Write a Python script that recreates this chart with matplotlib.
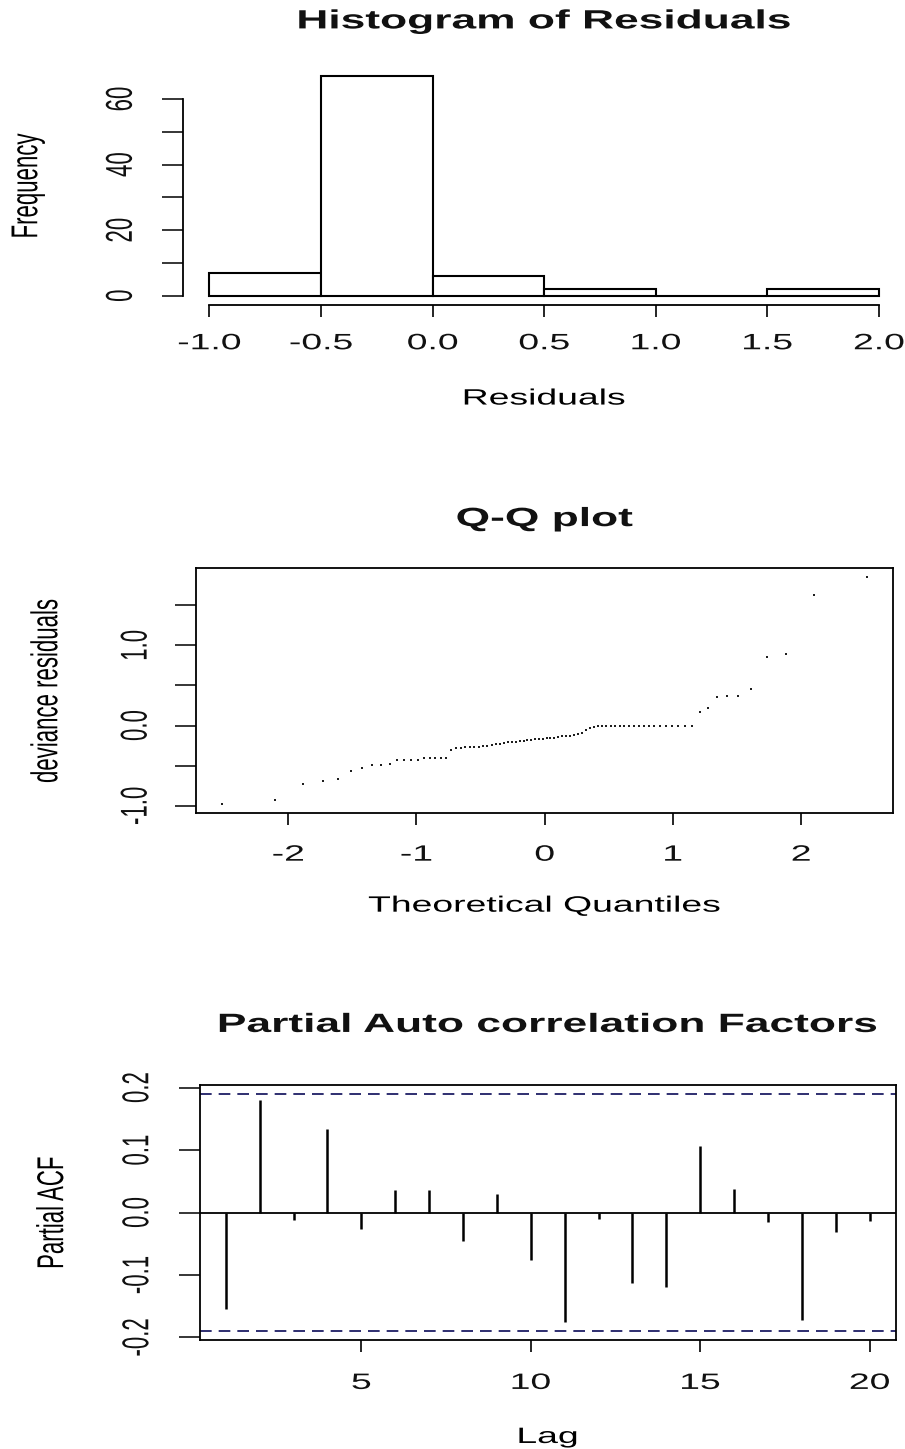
import statistics
import matplotlib
matplotlib.use("Agg")
import matplotlib.pyplot as plt
from matplotlib import patheffects
from matplotlib.text import Text
from matplotlib.transforms import Affine2D
import numpy as np

# histogram of residuals
hist_edges = [-1.0, -0.5, 0.0, 0.5, 1.0, 1.5, 2.0]
hist_counts = [7, 67, 6, 2, 0, 2]
hist_xticks = [-1.0, -0.5, 0.0, 0.5, 1.0, 1.5, 2.0]
hist_xlabels = ["-1.0", "-0.5", "0.0", "0.5", "1.0", "1.5", "2.0"]
hist_yticks = [0, 10, 20, 30, 40, 50, 60]
hist_ylabels = ["0", "", "20", "", "40", "", "60"]

# sorted deviance residuals (Q-Q plot)
residuals = [
    -0.98, -0.93, -0.725, -0.69, -0.66, -0.56, -0.525, -0.49, -0.49, -0.475,
    -0.425, -0.425, -0.425, -0.425, -0.41, -0.41, -0.41, -0.40, -0.40, -0.30,
    -0.285, -0.28, -0.27, -0.27, -0.27, -0.265, -0.255, -0.25, -0.24, -0.228,
    -0.225, -0.222, -0.21, -0.205, -0.20, -0.195, -0.19, -0.18, -0.178, -0.172,
    -0.168, -0.165, -0.158, -0.155, -0.15, -0.148, -0.135, -0.13, -0.128, -0.12,
    -0.105, -0.09, -0.05, -0.035, -0.02, -0.01,
    0.0, 0.0, 0.0, 0.0, 0.0, 0.0, 0.0, 0.0, 0.0,
    0.0, 0.0, 0.0, 0.0, 0.0, 0.0, 0.0, 0.0, 0.0,
    0.166, 0.22, 0.35, 0.366, 0.366, 0.45, 0.86, 0.89, 1.63, 1.85,
]
qq_xticks = [-2, -1, 0, 1, 2]
qq_xlabels = ["-2", "-1", "0", "1", "2"]
qq_yticks = [-1.0, -0.5, 0.0, 0.5, 1.0, 1.5]
qq_ylabels = ["-1.0", "", "0.0", "", "1.0", ""]

# partial autocorrelations
lags = [1, 2, 3, 4, 5, 6, 7, 8, 9, 10, 11, 12, 13, 14, 15, 16, 17, 18, 19, 20]
pacf = [-0.155, 0.180, -0.012, 0.133, -0.027, 0.036, 0.036, -0.045, 0.030, -0.076,
        -0.176, -0.010, -0.113, -0.119, 0.106, 0.038, -0.015, -0.172, -0.031, -0.014]
pacf_ci = 0.189
pacf_xticks = [5, 10, 15, 20]
pacf_xlabels = ["5", "10", "15", "20"]
pacf_yticks = [-0.2, -0.1, 0.0, 0.1, 0.2]
pacf_ylabels = ["-0.2", "-0.1", "0.0", "0.1", "0.2"]

W, H = 905, 1449
STRETCH = 1.68  # the reference picture is stretched sideways
FS = 16         # axis text
TFS = 19        # titles

plt.rcParams["font.family"] = ["Liberation Sans", "DejaVu Sans"]
plt.rcParams["axes.unicode_minus"] = False
plt.rcParams["axes.linewidth"] = 1.3
plt.rcParams["text.color"] = "#111111"
plt.rcParams["xtick.labelcolor"] = "#111111"
plt.rcParams["ytick.labelcolor"] = "#111111"


class Widen(patheffects.AbstractPathEffect):
    def __init__(self, sx):
        super().__init__()
        self.sx = sx

    def draw_path(self, renderer, gc, tpath, affine, rgbFace=None):
        box = tpath.get_extents(affine)
        cx = 0.5 * (box.x0 + box.x1)
        wide = Affine2D().translate(-cx, 0).scale(self.sx, 1).translate(cx, 0)
        renderer.draw_path(gc, tpath, affine + wide, rgbFace)


def box(left, top, right, bottom):
    return [left / W, 1 - bottom / H, (right - left) / W, (bottom - top) / H]


def r_axis(ax, xpad, ypad):
    ax.tick_params(axis="x", length=8.6, width=1.2, pad=xpad, labelsize=FS)
    ax.tick_params(axis="y", length=15, width=1.1, pad=ypad, labelsize=FS,
                   labelrotation=90)
    for lbl in ax.get_yticklabels():
        lbl.set_va("center")


fig = plt.figure(figsize=(W / 100, H / 100), dpi=100)

# --- histogram
ax1 = fig.add_axes(box(182.7, 67.3, 905.8, 304.5))
ax1.bar(hist_edges[:-1], hist_counts, width=np.diff(hist_edges), align="edge",
        color="white", edgecolor="black", linewidth=1.5)
ax1.use_sticky_edges = False
ax1.margins(0.04)
ax1.spines[["top", "right"]].set_visible(False)
ax1.spines["left"].set_bounds(0, 60)
ax1.spines["bottom"].set_bounds(-1, 2)
ax1.set_xticks(hist_xticks, hist_xlabels)
ax1.set_yticks(hist_yticks, hist_ylabels)
r_axis(ax1, 12.1, 21.8)
ax1.set_title("Histogram of Residuals", fontsize=TFS, fontweight="bold", pad=28)
ax1.set_xlabel("Residuals", fontsize=FS, labelpad=24.7)
ax1.set_ylabel("Frequency", fontsize=FS)
ax1.yaxis.set_label_coords(-0.1993, 0.5)

# --- Q-Q plot
ax2 = fig.add_axes(box(196.4, 568, 893, 813.3))
n = len(residuals)
nd = statistics.NormalDist()
theo = [nd.inv_cdf((i + 0.5) / n) for i in range(n)]
ax2.plot(theo, residuals, ls="none", marker="s", ms=1.7, mew=0, color="#1e1e1e")
ax2.margins(0.04)
ax2.set_xticks(qq_xticks, qq_xlabels)
ax2.set_yticks(qq_yticks, qq_ylabels)
r_axis(ax2, 14, 21)
ax2.set_title("Q-Q plot", fontsize=TFS, fontweight="bold", pad=30.2)
ax2.set_xlabel("Theoretical Quantiles", fontsize=FS, labelpad=21.6)
ax2.set_ylabel("deviance residuals", fontsize=FS)
ax2.yaxis.set_label_coords(-0.2003, 0.5)

# --- PACF
ax3 = fig.add_axes(box(200, 1085, 895.5, 1340))
ax3.vlines(lags, 0, pacf, color="black", linewidth=1.8)
ax3.axhline(0, color="black", linewidth=1.3)
for c in (pacf_ci, -pacf_ci):
    ax3.axhline(c, color="#2e2e70", linewidth=1.4, dashes=(6, 3.6))
span = lags[-1] - lags[0]
ax3.set_xlim(lags[0] - 0.04 * span, lags[-1] + 0.04 * span)
lo = min(min(pacf), -pacf_ci)
hi = max(max(pacf), pacf_ci)
ax3.set_ylim(lo - 0.04 * (hi - lo), hi + 0.04 * (hi - lo))
ax3.set_xticks(pacf_xticks, pacf_xlabels)
ax3.set_yticks(pacf_yticks, pacf_ylabels)
r_axis(ax3, 15.1, 22.4)
ax3.set_title("Partial Auto correlation Factors", fontsize=TFS, fontweight="bold",
              pad=38.2)
ax3.set_xlabel("Lag", fontsize=FS, labelpad=23.8)
ax3.set_ylabel("Partial ACF", fontsize=FS)
ax3.yaxis.set_label_coords(-0.1974, 0.5)

fig.canvas.draw()
for t in fig.findobj(Text):
    t.set_path_effects([Widen(STRETCH)])

fig.savefig("out.png", dpi=100)
